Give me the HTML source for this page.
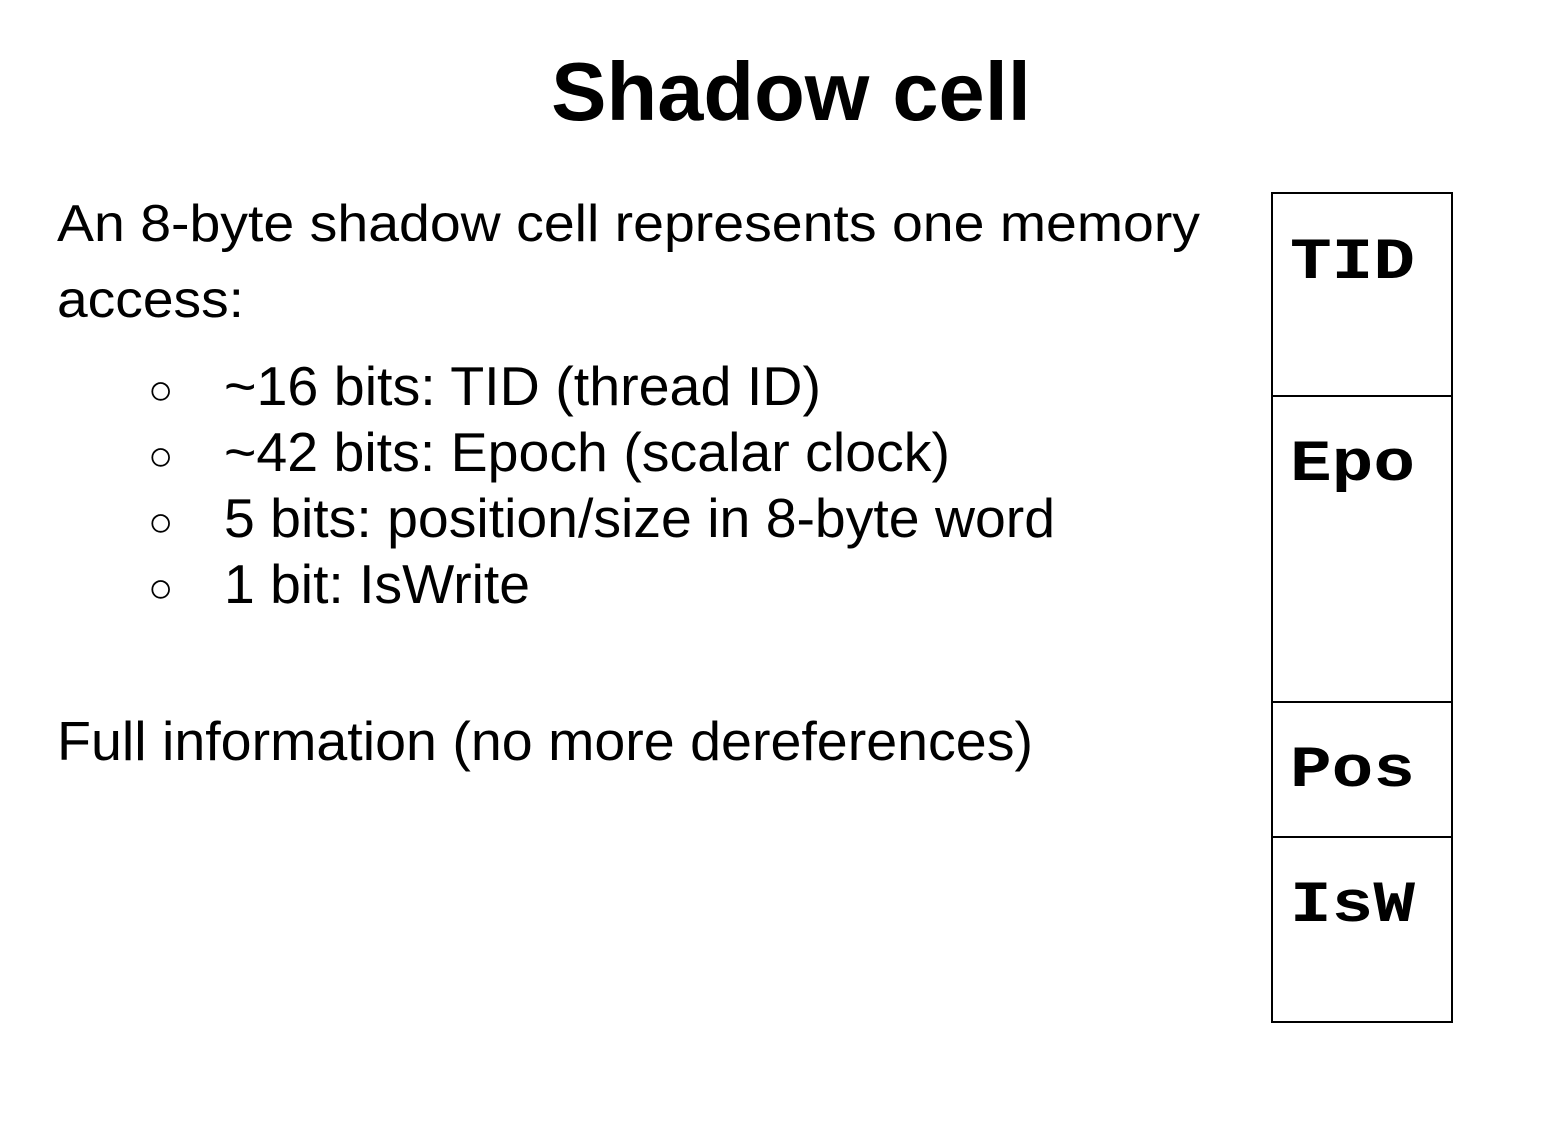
<!DOCTYPE html>
<html><head><style>html,body{margin:0;padding:0;background:#fff}</style></head>
<body>
<svg width="1568" height="1125" xmlns="http://www.w3.org/2000/svg">
<rect width="1568" height="1125" fill="#fff"/>
<g font-family="Liberation Sans, Arial, sans-serif" fill="#000">
<text x="791" y="120" font-size="83" font-weight="bold" text-anchor="middle">Shadow cell</text>
<text x="57" y="241" font-size="52" textLength="1143" lengthAdjust="spacingAndGlyphs">An 8-byte shadow cell represents one memory</text>
<text x="57" y="317" font-size="52" textLength="187" lengthAdjust="spacingAndGlyphs">access:</text>
<g font-size="55">
<text x="148" y="404" font-size="42">○</text>
<text x="224" y="405" textLength="597" lengthAdjust="spacingAndGlyphs">~16 bits: TID (thread ID)</text>
<text x="148" y="470" font-size="42">○</text>
<text x="224" y="471" textLength="726" lengthAdjust="spacingAndGlyphs">~42 bits: Epoch (scalar clock)</text>
<text x="148" y="536" font-size="42">○</text>
<text x="224" y="537" textLength="831" lengthAdjust="spacingAndGlyphs">5 bits: position/size in 8-byte word</text>
<text x="148" y="602" font-size="42">○</text>
<text x="224" y="603" textLength="306" lengthAdjust="spacingAndGlyphs">1 bit: IsWrite</text>
</g>
<text x="57" y="760" font-size="55" textLength="976" lengthAdjust="spacingAndGlyphs">Full information (no more dereferences)</text>
</g>
<g stroke="#000" stroke-width="2" fill="none">
<rect x="1272" y="193" width="180" height="829"/>
<line x1="1272" y1="396" x2="1452" y2="396"/>
<line x1="1272" y1="702" x2="1452" y2="702"/>
<line x1="1272" y1="837" x2="1452" y2="837"/>
</g>
<g font-family="Liberation Mono, Courier New, monospace" font-weight="bold" font-size="58" fill="#000">
<text x="1290" y="278" textLength="125" lengthAdjust="spacingAndGlyphs">TID</text>
<text x="1290" y="480" textLength="125" lengthAdjust="spacingAndGlyphs">Epo</text>
<text x="1290" y="786" textLength="125" lengthAdjust="spacingAndGlyphs">Pos</text>
<text x="1290" y="921" textLength="125" lengthAdjust="spacingAndGlyphs">IsW</text>
</g>
</svg>
</body></html>
